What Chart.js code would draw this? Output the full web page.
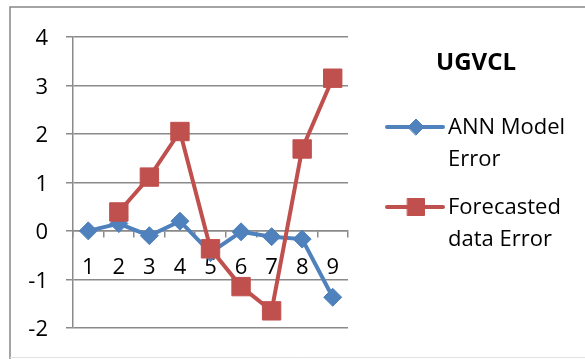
<!DOCTYPE html>
<html>
<head>
<meta charset="utf-8">
<script src="https://cdn.jsdelivr.net/npm/chart.js@4/dist/chart.umd.min.js"></script>
<style>
  html, body { margin: 0; padding: 0; background: #fff; }
  canvas { display: block; }
</style>
</head>
<body>
<canvas id="c" width="585" height="359"></canvas>
<script>
// Observation numbers along the x axis
const categories = ['1', '2', '3', '4', '5', '6', '7', '8', '9'];
// Error of the ANN model at each observation
const annModelError = [0, 0.15, -0.1, 0.2, -0.45, -0.02, -0.12, -0.17, -1.37];
// Error of the forecasted data (no value for the first observation)
const forecastedDataError = [null, 0.39, 1.11, 2.05, -0.37, -1.15, -1.65, 1.69, 3.15];
// Value axis ticks
const yTicks = [-2, -1, 0, 1, 2, 3, 4];
const chartTitle = 'UGVCL';
const seriesNames = ['ANN Model Error', 'Forecasted data Error'];

const FONT = '"Open Sans", "DejaVu Sans", sans-serif';
const GRID = '#8a8a8a';
const BLUE = '#4F81BD';
const RED = '#C0504D';

// White page with the grey frame around the chart object
const framePlugin = {
  id: 'frame',
  beforeDraw(chart) {
    const ctx = chart.ctx;
    ctx.save();
    ctx.fillStyle = '#fff';
    ctx.fillRect(0, 0, chart.width, chart.height);
    ctx.strokeStyle = '#868686';
    ctx.lineWidth = 1.5;
    ctx.beginPath();
    ctx.moveTo(10, chart.height);
    ctx.lineTo(10, 7);
    ctx.lineTo(chart.width, 7);
    ctx.stroke();
    ctx.strokeStyle = '#e2e2e2';
    ctx.lineWidth = 1;
    ctx.beginPath();
    ctx.moveTo(10, chart.height - 1.5);
    ctx.lineTo(chart.width, chart.height - 1.5);
    ctx.stroke();
    ctx.restore();
  }
};

// Title and legend block on the right-hand side
const sideLegendPlugin = {
  id: 'sideLegend',
  afterDraw(chart) {
    const ctx = chart.ctx;
    ctx.save();
    ctx.fillStyle = '#000';
    ctx.textAlign = 'center';
    ctx.textBaseline = 'middle';
    ctx.font = 'bold 24px ' + FONT;
    ctx.fillText(chartTitle, 476, 63);

    const lineX0 = 387, lineX1 = 443, textX = 448, maxW = 130;
    const rowY = [127, 207];
    const lineGap = 31.5;
    ctx.font = '22px ' + FONT;
    chart.data.datasets.forEach((ds, i) => {
      const y = rowY[i];
      ctx.strokeStyle = ds.borderColor;
      ctx.lineWidth = 4;
      ctx.lineCap = 'round';
      ctx.beginPath();
      ctx.moveTo(lineX0, y);
      ctx.lineTo(lineX1, y);
      ctx.stroke();
      ctx.fillStyle = ds.backgroundColor;
      ctx.strokeStyle = ds.borderColor;
      ctx.lineWidth = 1;
      Chart.helpers.drawPoint(ctx, {
        pointStyle: ds.pointStyle,
        radius: ds.legendRadius,
        rotation: 0,
        borderWidth: 1
      }, (lineX0 + lineX1) / 2 + 1, y);

      // wrap the series name into lines that fit the legend width
      const words = ds.label.split(' ');
      const lines = [];
      let cur = '';
      words.forEach(w => {
        const t = cur ? cur + ' ' + w : w;
        if (cur && ctx.measureText(t).width > maxW) {
          lines.push(cur);
          cur = w;
        } else {
          cur = t;
        }
      });
      if (cur) lines.push(cur);
      ctx.fillStyle = '#000';
      ctx.textAlign = 'left';
      ctx.textBaseline = 'middle';
      lines.forEach((ln, k) => ctx.fillText(ln, textX, y + 1 + k * lineGap));
    });
    ctx.restore();
  }
};

new Chart(document.getElementById('c'), {
  type: 'line',
  data: {
    labels: categories,
    datasets: [
      {
        label: seriesNames[0],
        data: annModelError,
        borderColor: BLUE,
        backgroundColor: BLUE,
        borderWidth: 4,
        pointStyle: 'rectRot',
        pointRadius: 9,
        pointBorderWidth: 1,
        pointHoverRadius: 9,
        legendRadius: 8,
        tension: 0,
        order: 1
      },
      {
        label: seriesNames[1],
        data: forecastedDataError,
        borderColor: RED,
        backgroundColor: RED,
        borderWidth: 4,
        pointStyle: 'rect',
        pointRadius: 13,
        pointBorderWidth: 1,
        pointHoverRadius: 13,
        legendRadius: 12,
        tension: 0,
        order: 0
      }
    ]
  },
  options: {
    responsive: false,
    devicePixelRatio: 1,
    animation: false,
    events: [],
    layout: { padding: { left: 10, top: 37, right: 237, bottom: 29 } },
    plugins: {
      legend: { display: false },
      title: { display: false },
      tooltip: { enabled: false }
    },
    scales: {
      x: {
        type: 'category',
        position: { y: 0 },
        offset: true,
        grid: {
          offset: true,
          drawOnChartArea: false,
          drawTicks: true,
          tickLength: 6,
          color: GRID,
          lineWidth: 1.5
        },
        border: { display: true, color: GRID, width: 1.5 },
        ticks: {
          color: '#000',
          font: { family: FONT, size: 22 },
          padding: 18,
          maxRotation: 0,
          autoSkip: false
        }
      },
      y: {
        min: yTicks[0],
        max: yTicks[yTicks.length - 1],
        afterBuildTicks(scale) {
          scale.ticks = yTicks.map(v => ({ value: v }));
        },
        afterFit(scale) { scale.width = 63; },
        grid: {
          color: GRID,
          lineWidth: 1.5,
          tickLength: 7
        },
        border: { display: true, color: GRID, width: 1.5 },
        ticks: {
          color: '#000',
          font: { family: FONT, size: 22 },
          padding: 18,
          labelOffset: 2
        }
      }
    }
  },
  plugins: [framePlugin, sideLegendPlugin]
});
</script>
</body>
</html>
